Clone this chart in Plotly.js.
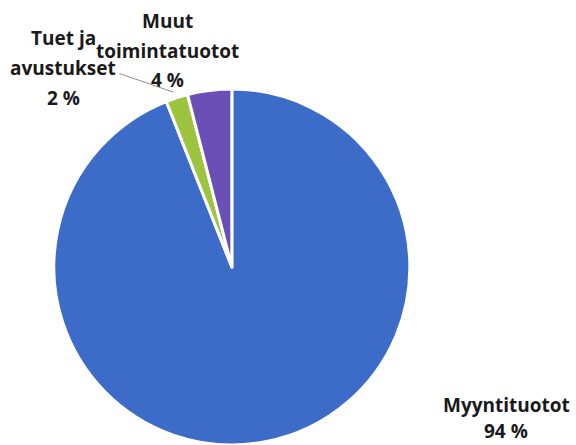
<!DOCTYPE html>
<html>
<head>
<meta charset="utf-8">
<script src="https://cdn.plot.ly/plotly-3.0.1.min.js"></script>
<style>html,body{margin:0;padding:0;background:#fff;}#chart{width:576px;height:445px;}</style>
</head>
<body>
<div id="chart"></div>
<script>
// Data
const labels = ["Myyntituotot", "Tuet ja avustukset", "Muut toimintatuotot"];
const labelLines = [["Myyntituotot"], ["Tuet ja", "avustukset"], ["Muut", "toimintatuotot"]];
const values = [94, 2, 4];
const percentLabels = ["94 %", "2 %", "4 %"];
const colors = ["#3c6cc8", "#9cc43e", "#6a50b6"];

const W = 576, H = 445;
const px = x => x / W;
const py = y => 1 - y / H;

// label block anchor positions (pixel centres of each text line block)
const labelPos = [
  {x: 506, ys: [405, 434]},
  {x: 63, ys: [38, 68, 98]},
  {x: 167, ys: [21, 51, 80]}
];

const font = {family: "Open Sans, Noto Sans, sans-serif", size: 19, color: "#1a1a1a"};
const annotations = [];
labels.forEach((lab, i) => {
  const lines = labelLines[i].concat([percentLabels[i]]);
  lines.forEach((t, j) => {
    const last = (i === 0 && j === lines.length - 1);
    annotations.push({
      xref: "paper", yref: "paper", x: px(labelPos[i].x),
      y: last ? 0 : py(labelPos[i].ys[j]),
      xanchor: "center", yanchor: last ? "bottom" : "middle", showarrow: false,
      borderpad: 0,
      text: "<b>" + t + "</b>", font: font
    });
  });
});
// leader line from "avustukset" to the green slice
annotations.push({
  xref: "paper", yref: "paper", x: px(173), y: py(92), text: "",
  showarrow: true, arrowhead: 0, arrowwidth: 1, arrowcolor: "#8c8c8c",
  ax: -55, ay: -19
});

const trace = {
  type: "pie",
  labels: labels,
  values: values,
  sort: false,
  direction: "clockwise",
  rotation: 0,
  textinfo: "none",
  hoverinfo: "label+percent",
  marker: {colors: colors, line: {color: "#ffffff", width: 3}},
  domain: {x: [0.092, 0.713], y: [0, 0.8]},
  showlegend: false
};

Plotly.newPlot("chart", [trace], {
  width: W, height: H,
  margin: {l: 0, r: 0, t: 0, b: 0},
  paper_bgcolor: "#ffffff",
  showlegend: false,
  annotations: annotations
}, {displayModeBar: false, staticPlot: true});
</script>
</body>
</html>
